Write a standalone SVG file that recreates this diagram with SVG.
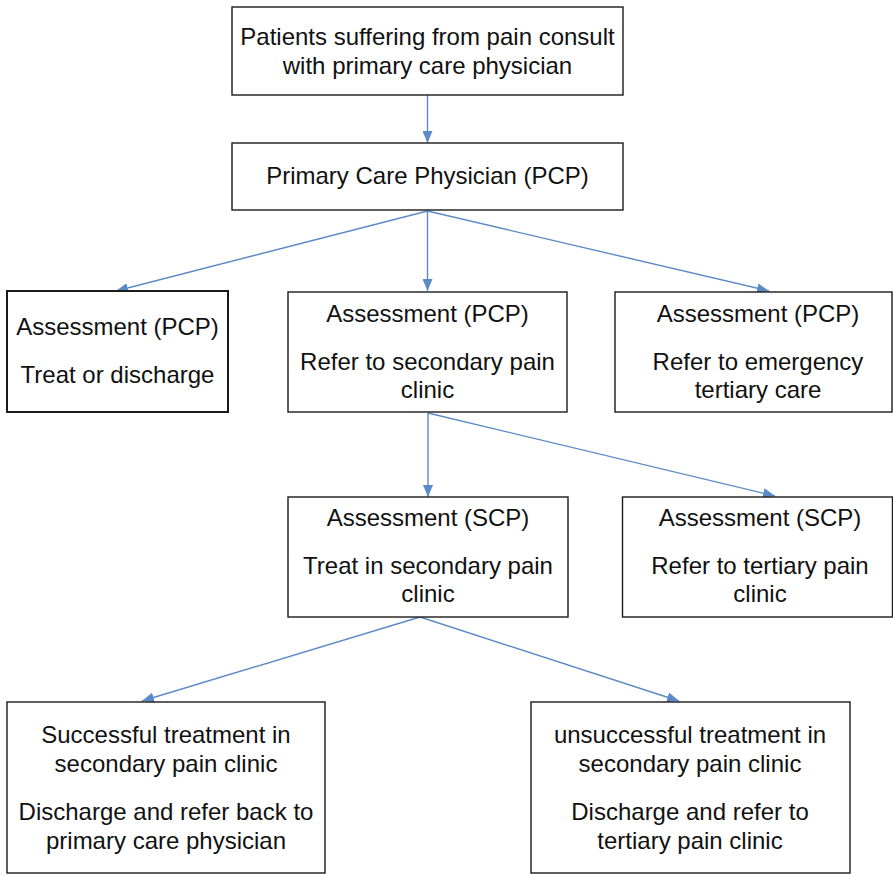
<svg xmlns="http://www.w3.org/2000/svg" width="893" height="875" viewBox="0 0 893 875">
<style>
.box{fill:#fff;stroke:#1a1a1a;stroke-width:1.4}
.t{font-family:"Liberation Sans",Arial,sans-serif;font-size:24px;fill:#111;text-anchor:middle}
.c{stroke:#5b8ac6;stroke-width:1.4;fill:none}
</style>
<defs>
<marker id="ah" viewBox="0 0 12 10" refX="12" refY="5" markerWidth="12" markerHeight="10" markerUnits="userSpaceOnUse" orient="auto">
<path d="M0,0 L12,5 L0,10 Z" fill="#5b8ac6"/>
</marker>
</defs>
<g id="connectors">
<line class="c" x1="427.5" y1="95" x2="427.5" y2="143" marker-end="url(#ah)"/>
<line class="c" x1="427.5" y1="211" x2="116" y2="291" marker-end="url(#ah)"/>
<line class="c" x1="427.5" y1="211" x2="427.5" y2="291" marker-end="url(#ah)"/>
<line class="c" x1="427.5" y1="211" x2="769" y2="291" marker-end="url(#ah)"/>
<line class="c" x1="428" y1="413" x2="428" y2="497" marker-end="url(#ah)"/>
<line class="c" x1="428" y1="413" x2="775" y2="496" marker-end="url(#ah)"/>
<line class="c" x1="420" y1="617" x2="142" y2="701" marker-end="url(#ah)"/>
<line class="c" x1="420" y1="617" x2="679" y2="701" marker-end="url(#ah)"/>
</g>
<g id="n1">
<rect class="box" x="232" y="7" width="391" height="88"/>
<text class="t" x="427.5" y="45">Patients suffering from pain consult</text>
<text class="t" x="427.5" y="74">with primary care physician</text>
</g>
<g id="n2">
<rect class="box" x="232" y="143" width="391" height="67"/>
<text class="t" x="427.5" y="184">Primary Care Physician (PCP)</text>
</g>
<g id="n3">
<rect class="box" x="7" y="291" width="221" height="121" style="stroke-width:2"/>
<text class="t" x="117.5" y="335">Assessment (PCP)</text>
<text class="t" x="117.5" y="383">Treat or discharge</text>
</g>
<g id="n4">
<rect class="box" x="288" y="292" width="279" height="120"/>
<text class="t" x="427.5" y="322">Assessment (PCP)</text>
<text class="t" x="427.5" y="370">Refer to secondary pain</text>
<text class="t" x="427.5" y="398">clinic</text>
</g>
<g id="n5">
<rect class="box" x="615" y="292" width="277" height="120"/>
<text class="t" x="758" y="322">Assessment (PCP)</text>
<text class="t" x="758" y="370">Refer to emergency</text>
<text class="t" x="758" y="398">tertiary care</text>
</g>
<g id="n6">
<rect class="box" x="288" y="497" width="280" height="120"/>
<text class="t" x="428" y="526">Assessment (SCP)</text>
<text class="t" x="428" y="574">Treat in secondary pain</text>
<text class="t" x="428" y="602">clinic</text>
</g>
<g id="n7">
<rect class="box" x="622.5" y="497" width="270" height="120"/>
<text class="t" x="760" y="526">Assessment (SCP)</text>
<text class="t" x="760" y="574">Refer to tertiary pain</text>
<text class="t" x="760" y="602">clinic</text>
</g>
<g id="n8">
<rect class="box" x="7" y="702" width="318" height="171"/>
<text class="t" x="166" y="743">Successful treatment in</text>
<text class="t" x="166" y="772">secondary pain clinic</text>
<text class="t" x="166" y="820">Discharge and refer back to</text>
<text class="t" x="166" y="849">primary care physician</text>
</g>
<g id="n9">
<rect class="box" x="531" y="702" width="319" height="171"/>
<text class="t" x="690" y="743">unsuccessful treatment in</text>
<text class="t" x="690" y="772">secondary pain clinic</text>
<text class="t" x="690" y="820">Discharge and refer to</text>
<text class="t" x="690" y="849">tertiary pain clinic</text>
</g>
</svg>
